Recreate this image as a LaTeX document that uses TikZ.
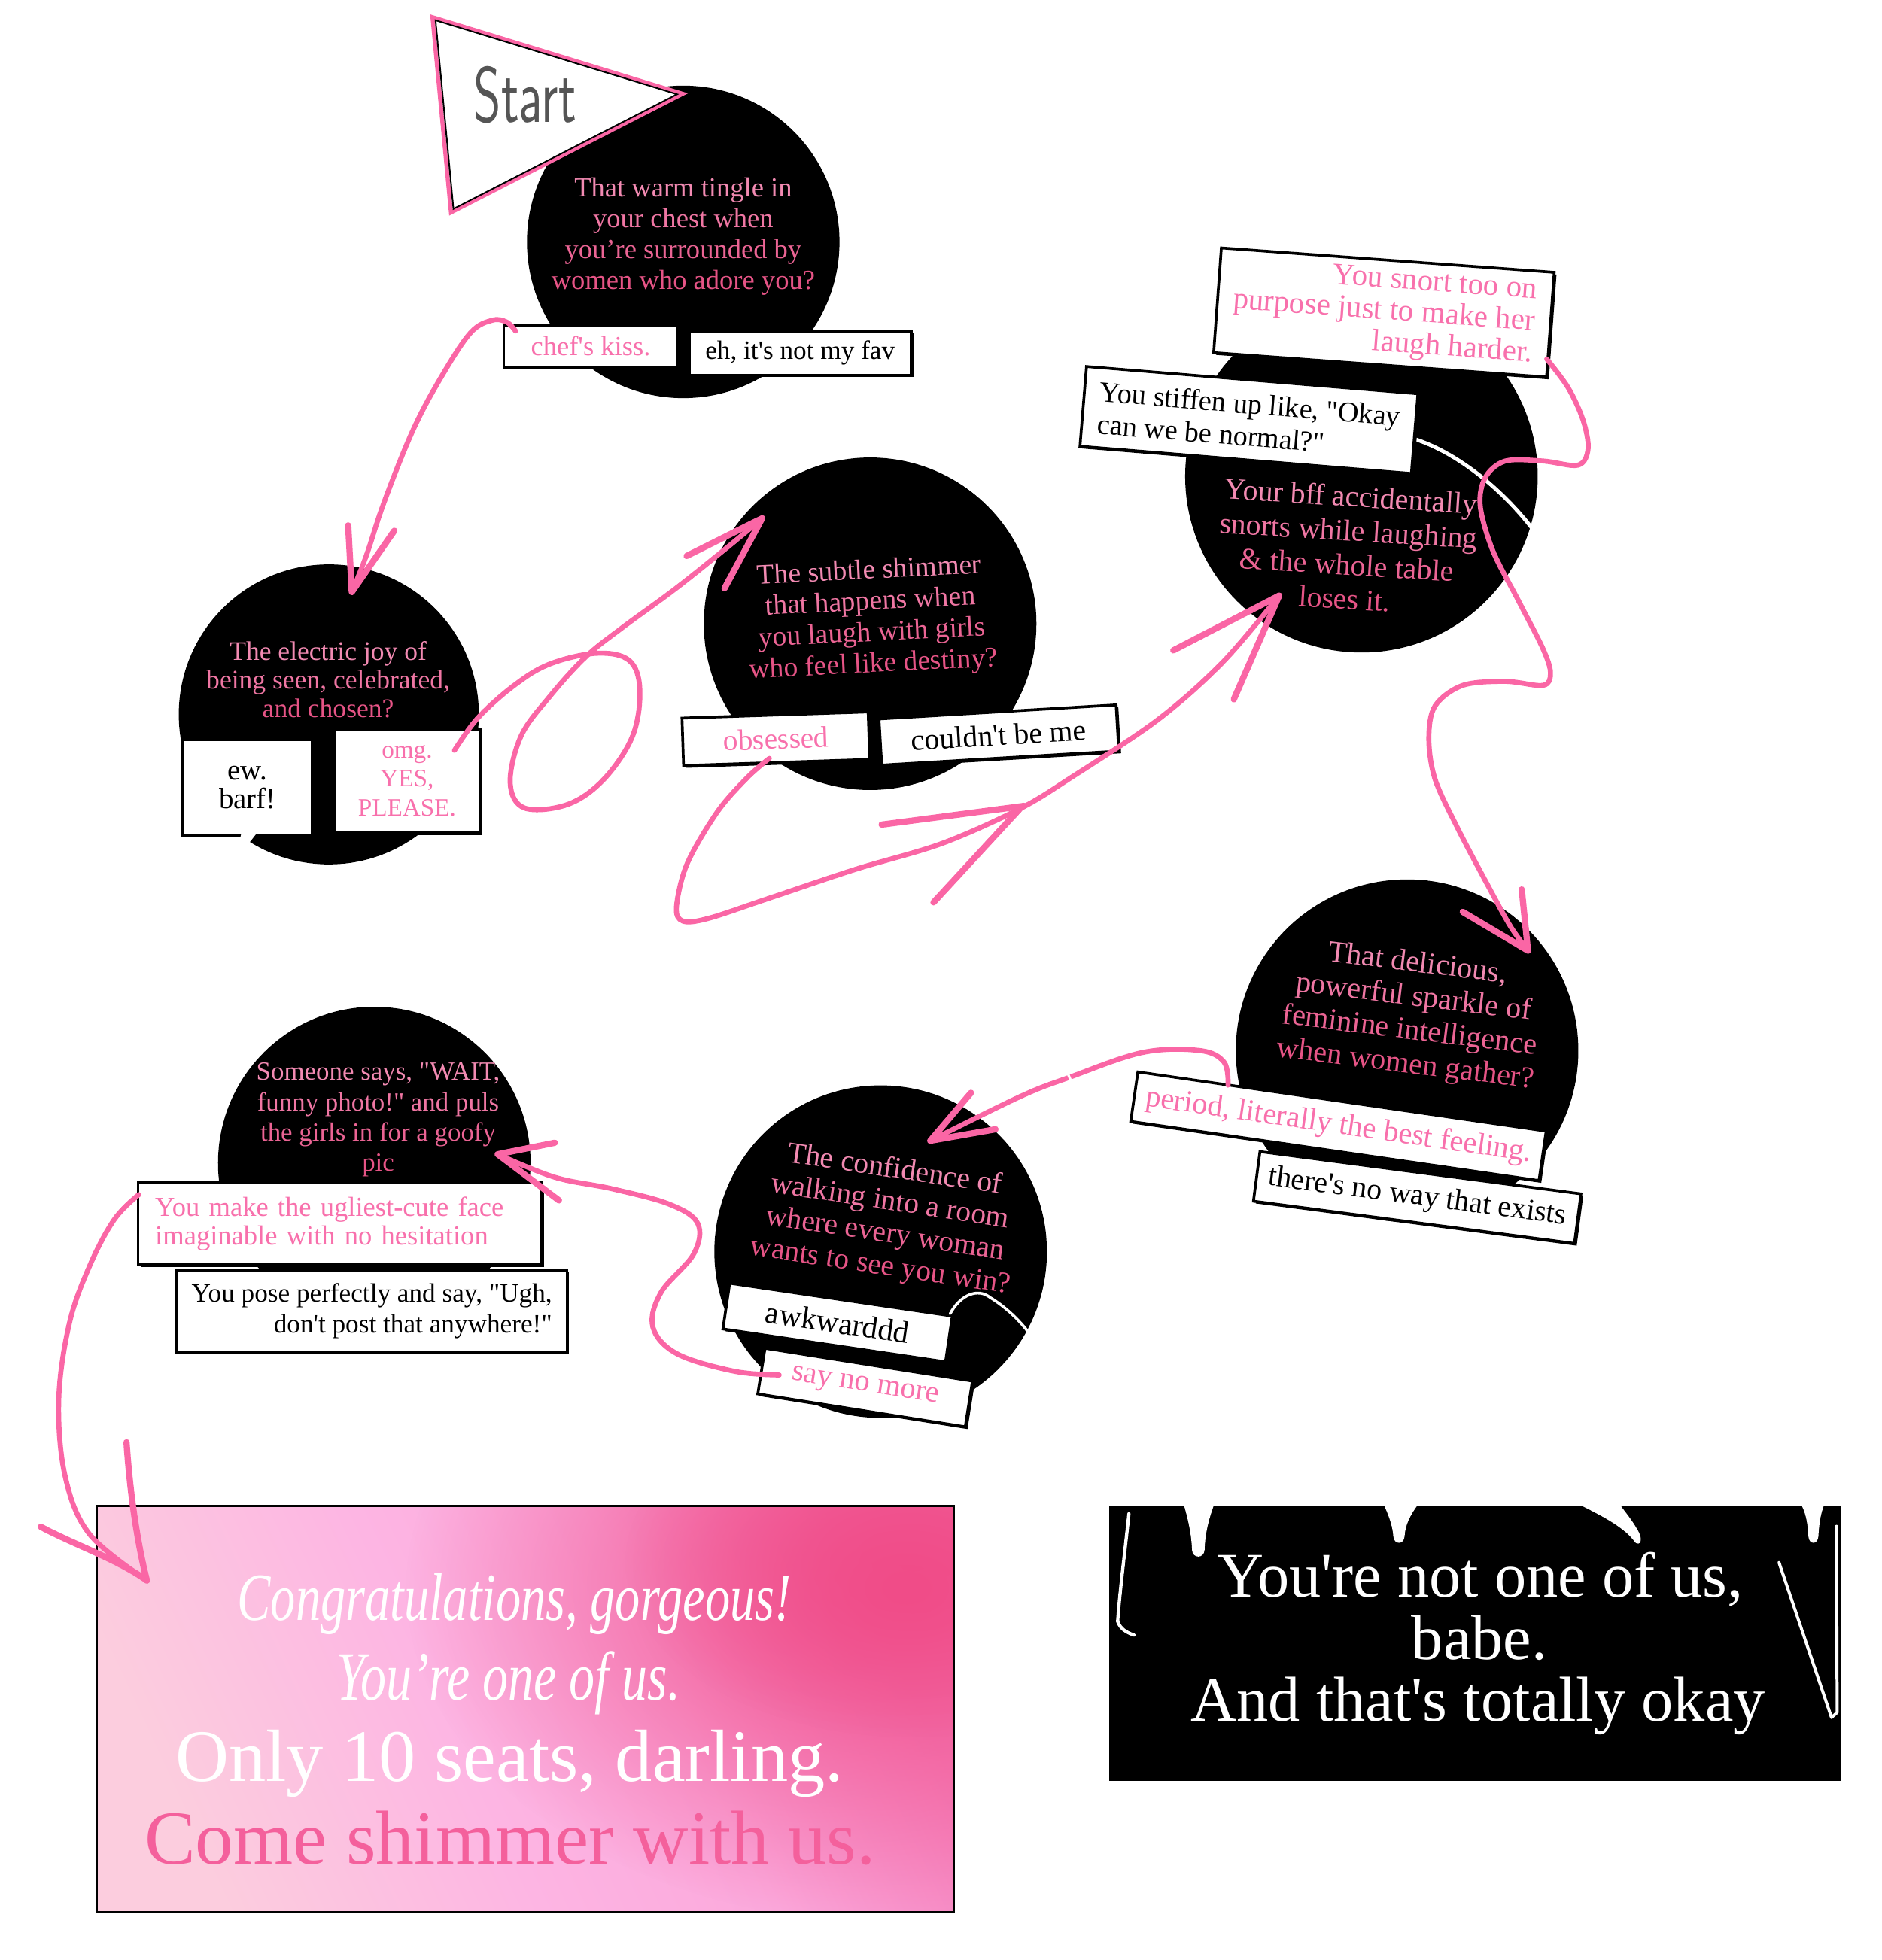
\documentclass[tikz,border=0pt]{standalone}
\usepackage{fontspec}
\setmainfont{Liberation Serif}[Ligatures=TeXOff]
\usetikzlibrary{shadows,fadings}
\definecolor{arrowpink}{RGB}{250,102,165}
\definecolor{qA}{RGB}{242,138,178}
\definecolor{qB}{RGB}{239,118,163}
\definecolor{qC}{RGB}{235,100,148}
\definecolor{qD}{RGB}{230,84,134}
\definecolor{apink}{RGB}{248,112,172}
\definecolor{startgray}{RGB}{85,85,85}
\definecolor{shimmer}{RGB}{244,96,156}
\definecolor{hotpink}{RGB}{240,76,136}
\newcommand\qfour[4]{\textcolor{qA}{#1}\\\textcolor{qB}{#2}\\\textcolor{qC}{#3}\\\textcolor{qD}{#4}}
\newcommand\qthree[3]{\textcolor{qA}{#1}\\\textcolor{qB}{#2}\\\textcolor{qD}{#3}}
\pgfdeclarehorizontalshading{pinkgrad}{100bp}{rgb(0bp)=(0.988,0.804,0.871); rgb(25bp)=(0.988,0.804,0.871); rgb(45bp)=(0.992,0.710,0.890); rgb(60bp)=(0.985,0.660,0.860); rgb(75bp)=(0.965,0.530,0.760); rgb(100bp)=(0.965,0.530,0.760)}
\tikzfading[name=hotfade, inner color=transparent!0, outer color=transparent!100]
\begin{document}
\begin{tikzpicture}[x=0.5pt,y=-0.5pt,
  qcirc/.style={circle, fill=black, inner sep=0pt},
  qtext/.style={align=center, inner sep=0pt},
  ansbox/.style={draw=black, line width=1.1pt, fill=white, inner sep=2pt,
    drop shadow={shadow xshift=0.9pt, shadow yshift=-0.9pt, fill=black, opacity=1}},
  pinkline/.style={draw=arrowpink, line width=2pt, line cap=round, line join=round},
  headline/.style={draw=arrowpink, line width=2.5pt, line cap=round, line join=round},
  ghost/.style={draw=white, line cap=round},
]
\useasboundingbox (0,0) rectangle (1505,1568);
\fill[white] (0,0) rectangle (1505,1568);

% ---------- circles ----------
\node[qcirc, minimum size=125pt] (q1) at (546.5,193.5) {};
\node[qcirc, minimum size=120pt] (q2) at (263,571.5) {};
\node[qcirc, minimum size=133pt] (q3) at (696,499) {};
\node[qcirc, minimum size=141pt] (q4) at (1089,381) {};
\node[qcirc, minimum size=137pt] (q5) at (1125.5,840.5) {};
\node[qcirc, minimum size=133pt] (q6) at (704.4,1001.3) {};
\node[qcirc, minimum size=125pt] (q7) at (299.4,930.4) {};

% white strokes over circles
\draw[ghost, line width=1.5pt] (1131,351) .. controls (1165,362) and (1200,390) .. (1225,422);

% ---------- question texts ----------
\node[qtext, font=\fontsize{11}{12.35}\selectfont] (q1t) at (546.5,189) {\qfour{That warm tingle in}{your chest when}{you’re surrounded by}{women who adore you?}};
\node[qtext, font=\fontsize{10.7}{11.5}\selectfont] (q2t) at (262.5,543.5) {\qthree{The electric joy of}{being seen, celebrated,}{and chosen?}};
\node[qtext, rotate=2.8, font=\fontsize{11.3}{12.5}\selectfont] (q3t) at (697,495) {\qfour{The subtle shimmer}{that happens when}{you laugh with girls}{who feel like destiny?}};
\node[qtext, rotate=-3.5, font=\fontsize{12}{13.7}\selectfont] (q4t) at (1078,438) {\qfour{Your bff accidentally}{snorts while laughing}{\& the whole table}{loses it.}};
\node[qtext, rotate=-7, font=\fontsize{12.1}{13.5}\selectfont] (q5t) at (1129,812) {\qfour{That delicious,}{powerful sparkle of}{feminine intelligence}{when women gather?}};
\node[qtext, rotate=-8.5, font=\fontsize{11.9}{13}\selectfont] (q6t) at (710,975) {\qfour{The confidence of}{walking into a room}{where every woman}{wants to see you win?}};
\node[qtext, font=\fontsize{10.5}{12.15}\selectfont] (q7t) at (302.5,896) {\qfour{Someone says, "WAIT,}{funny photo!" and puls}{the girls in for a goofy}{pic}};

% ---------- answer boxes ----------
\node[ansbox, minimum width=69.5pt, minimum height=17pt, text=apink, font=\fontsize{11}{12}\selectfont] (chef) at (472.5,277) {chef's kiss.};
\node[ansbox, minimum width=88.75pt, minimum height=17.5pt, font=\fontsize{10.6}{12}\selectfont] (eh) at (640,282.5) {eh, it's not my fav};
\node[ansbox, minimum width=51.75pt, minimum height=38pt, align=center, font=\fontsize{11.7}{11.5}\selectfont] (ew) at (198,630) {ew.\\barf!};
\fill[white] (193,667) -- (205,667) -- (187,690) -- cycle;
\node[ansbox, minimum width=58.5pt, minimum height=41.5pt, align=center, text=apink, font=\fontsize{10}{11.5}\selectfont] (omg) at (325.6,624.6) {omg.\\YES,\\PLEASE.};
\node[ansbox, rotate=1.9, minimum width=74.5pt, minimum height=19pt, text=apink, font=\fontsize{11.9}{12}\selectfont] (obs) at (620.6,591) {obsessed};
\node[ansbox, rotate=3.4, minimum width=95pt, minimum height=18.5pt, font=\fontsize{12}{12}\selectfont] (cbm) at (799,588) {couldn't be me};
\node[ansbox, rotate=-4.2, minimum width=133.5pt, minimum height=42pt, align=right, text=apink, font=\fontsize{12.3}{12.7}\selectfont] (snort) at (1107,250) {You snort too on\\purpose just to make her\\laugh harder.};
\node[ansbox, rotate=-4.7, minimum width=133pt, minimum height=32pt, align=left, font=\fontsize{11.5}{13}\selectfont] (stiff) at (999,336) {You stiffen up like, "Okay\\can we be normal?"};
\node[ansbox, rotate=-8.25, minimum width=165pt, minimum height=20pt, text=apink, font=\fontsize{12.2}{12}\selectfont] (period) at (1070.6,901) {period, literally the best feeling.};
\node[ansbox, rotate=-7.5, minimum width=129.5pt, minimum height=20pt, font=\fontsize{12}{12}\selectfont] (noway) at (1133.6,958) {there's no way that exists};
\node[ansbox, rotate=-8.4, minimum width=90pt, minimum height=18.5pt, font=\fontsize{12.4}{12}\selectfont] (awk) at (670,1058) {awkwarddd\hspace{10pt}};
\node[ansbox, rotate=-9, minimum width=84pt, minimum height=18.5pt, text=apink, font=\fontsize{12.2}{12}\selectfont] (snm) at (692,1110) {say no more};
\draw[ghost, line width=1.1pt] (760,1051) .. controls (768,1036) and (782,1030) .. (792,1038) .. controls (805,1046) and (815,1056) .. (822,1065);
\node[ansbox, minimum width=161.5pt, minimum height=32.75pt, inner xsep=6.8pt, text width=147.9pt, align=left, text=apink, font=\fontsize{11}{11.6}\selectfont] (ugly) at (272,979) {You make the ugliest-cute face\\imaginable with no hesitation};
\node[ansbox, minimum width=156pt, minimum height=32.8pt, align=right, font=\fontsize{10.6}{12.15}\selectfont] (pose) at (297.5,1048.8) {You pose perfectly and say, "Ugh,\\don't post that anywhere!"};

% ---------- start flag ----------
\draw[arrowpink, line width=1.6pt, fill=white, line join=miter] (345.9,13.7) -- (546.1,75) -- (360.7,170) -- cycle;
\draw[black, line width=0.6pt] (348.4,16.2) -- (541.6,75.4) -- (362.7,167.1) -- cycle;
\node[text=startgray, inner sep=0pt] (start) at (420,76) {\scalebox{0.7}[1.05]{\sffamily\fontsize{30}{30}\selectfont Start}};

% ---------- result boxes ----------
\node[minimum width=342.5pt, minimum height=162pt, inner sep=0pt, shading=pinkgrad, shading angle=25] (win) at (420.3,1367.3) {};
\begin{scope}
  \clip (win.north west) rectangle (win.south east);
  \fill[hotpink, path fading=hotfade] (725,1270) ellipse [x radius=400, y radius=270];
  \fill[hotpink, path fading=hotfade, opacity=0.7] (730,1250) ellipse [x radius=230, y radius=140];
\end{scope}
\draw[black, line width=0.8pt] (win.north west) rectangle (win.south east);
\node[anchor=base, text=white, inner sep=0pt, font=\itshape\fontsize{20}{20}\selectfont] (congr) at (411.5,1296.3) {\scalebox{1}[1.35]{Congratulations, gorgeous!}};
\node[anchor=base, text=white, inner sep=0pt, font=\itshape\fontsize{20.5}{20}\selectfont] (oneofus) at (407,1360) {\scalebox{1}[1.35]{You’re one of us.}};
\node[anchor=base, text=white, inner sep=0pt, font=\fontsize{29.6}{30}\selectfont] (seats) at (407.6,1424.8) {Only 10 seats, darling.};
\node[anchor=base, text=shimmer, inner sep=0pt, font=\fontsize{30.6}{31}\selectfont] (come) at (408,1491) {Come shimmer with us.};

\node[fill=black, minimum width=293pt, minimum height=110pt, inner sep=0pt] (lose) at (1180,1315) {};
\fill[white] (947,1204) .. controls (951,1218) and (953,1228) .. (953.5,1240) .. controls (954,1247) and (963,1247) .. (963.5,1240) .. controls (964,1226) and (967,1215) .. (971,1204) -- cycle;
\fill[white] (1107,1204) .. controls (1112,1215) and (1114,1222) .. (1114.5,1229) .. controls (1115,1236) and (1123,1236) .. (1123.5,1229) .. controls (1124,1220) and (1128,1212) .. (1134,1204) -- cycle;
\fill[white] (1264,1204) .. controls (1280,1212) and (1300,1222) .. (1308,1234) .. controls (1312,1237) and (1314,1232) .. (1311,1226) .. controls (1305,1215) and (1300,1210) .. (1296,1204) -- cycle;
\fill[white] (1441,1204) .. controls (1445,1212) and (1446,1220) .. (1446.5,1229) .. controls (1447,1236) and (1454,1236) .. (1454.5,1229) .. controls (1455,1220) and (1456,1212) .. (1459,1204) -- cycle;
\draw[ghost, line width=1.3pt] (903,1211) .. controls (900,1240) and (896,1270) .. (894,1297) .. controls (896,1303) and (901,1306) .. (907,1308);
\draw[ghost, line width=1.2pt, line join=round] (1423,1250) -- (1465,1374) -- (1469.5,1370) -- (1469,1221);
\node[anchor=base, text=white, inner sep=0pt, font=\fontsize{25.4}{26}\selectfont] (l1) at (1184.4,1277.4) {You're not one of us,};
\node[anchor=base, text=white, inner sep=0pt, font=\fontsize{25.4}{26}\selectfont] (l2) at (1183.4,1327.5) {babe.};
\node[anchor=base, text=white, inner sep=0pt, font=\fontsize{25.4}{26}\selectfont] (l3) at (1182.3,1376.7) {And that's totally okay};

% ---------- connectors ----------
% chef's kiss -> q2
\coordinate (a1s) at (412.4,264.8);
\coordinate (a1e) at (281.4,473.6);
\draw[pinkline] plot[smooth, tension=0.6] coordinates {(a1s) (405.2,257.6) (393.7,256.2) (376.4,266.2) (353.4,300.8) (330.4,344) (307.3,401.6) (292.9,444.8) (a1e)};
\draw[headline] (278.5,420.3) -- (a1e) -- (315.4,424.6);

% omg -> q3
\coordinate (a2s) at (363.5,600.3);
\coordinate (a2e) at (609.7,414.6);
\draw[pinkline] plot[smooth, tension=0.6] coordinates {(a2s) (382.2,574.4) (411,548.5) (439.8,531.2) (477.2,522.6) (503.2,528.3) (511.8,551.4) (506,588.8) (483,623.4) (454.2,643.5) (419.6,646.4) (408.1,626.2) (416.8,588.8) (439.8,557.1) (468.6,525.4) (497.4,502.4) (540.6,470.7) (583.8,436.2) (a2e)};
\draw[headline] (549.2,444.8) -- (a2e) -- (579.5,470.7);

% obsessed -> q4
\coordinate (a3s) at (615.4,606.7);
\coordinate (a3m) at (815.8,647.0);
\coordinate (a3e) at (1023.2,476.5);
\draw[pinkline] plot[smooth, tension=0.55] coordinates {(a3s) (598.1,621.7) (573.9,649.3) (549.7,690.8) (541.1,725.4) (546.3,736.9) (567,734.6) (615.4,718.5) (684.5,695.4) (753.6,674.7) (a3m) (857.3,621.7) (926.4,575.6) (978.3,529.5) (a3e)};
\draw[headline] (705.2,659.7) -- (819.3,644.7);
\draw[headline] (746.7,721.9) -- (a3m);
\draw[headline] (938.5,520.3) -- (a3e) -- (986.9,559.5);

% snort -> q5
\coordinate (a4s) at (1237.2,287.2);
\coordinate (a4e) at (1222.2,760.5);
\draw[pinkline] plot[smooth, tension=0.55] coordinates {(a4s) (1254.3,310.1) (1266.3,336.2) (1270.3,359.0) (1262.3,372.1) (1234.2,368.8) (1204.1,368.8) (1188.1,381.9) (1184.0,404.7) (1194.1,440.6) (1214.2,479.8) (1234.2,519.0) (1240.2,538.5) (1234.2,548.3) (1204.1,545.1) (1170.0,548.3) (1147.9,564.7) (1142.9,590.8) (1147.9,623.4) (1166.0,662.6) (1190.1,708.3) (1208.1,740.9) (a4e)};
\draw[headline] (1170,729.5) -- (a4e) -- (1217.2,711.5);

% period -> q6
\coordinate (a5s) at (982.3,868.1);
\coordinate (a5e) at (744.1,912.6);
\draw[pinkline] plot[smooth, tension=0.6] coordinates {(a5s) (979.1,849.7) (959.5,840.4) (913.8,842.0) (855.0,862.0) (815.9,877.3) (a5e)};
\draw[white, line width=1pt] (853,856) -- (858,868);
\draw[headline] (776.7,874.2) -- (a5e) -- (796.3,903.4);

% say no more -> q7
\coordinate (a6s) at (623.3,1100.0);
\coordinate (a6e) at (398.1,923.4);
\draw[pinkline] plot[smooth, tension=0.6] coordinates {(a6s) (587.4,1097.0) (541.7,1083.1) (522.2,1061.6) (528.7,1034.0) (554.8,1003.3) (558.1,978.7) (535.2,963.3) (489.5,951.0) (443.8,941.8) (a6e)};
\draw[headline] (443.8,914.2) -- (a6e) -- (447.1,960.3);

% ugliest -> win
\coordinate (a7s) at (111,955.7);
\coordinate (a7e) at (117.5,1264.4);
\draw[pinkline] plot[smooth, tension=0.6] coordinates {(a7s) (91.4,975.6) (71.8,1012.5) (55.5,1058.6) (47,1120) (52.2,1181.4) (71.8,1227.5) (a7e)};
\draw[headline] (32.6,1221.4) .. controls (60,1236) and (95,1248) .. (a7e);
\draw[headline] (101.2,1153.8) .. controls (104,1195) and (110,1235) .. (a7e);
\end{tikzpicture}
\end{document}
